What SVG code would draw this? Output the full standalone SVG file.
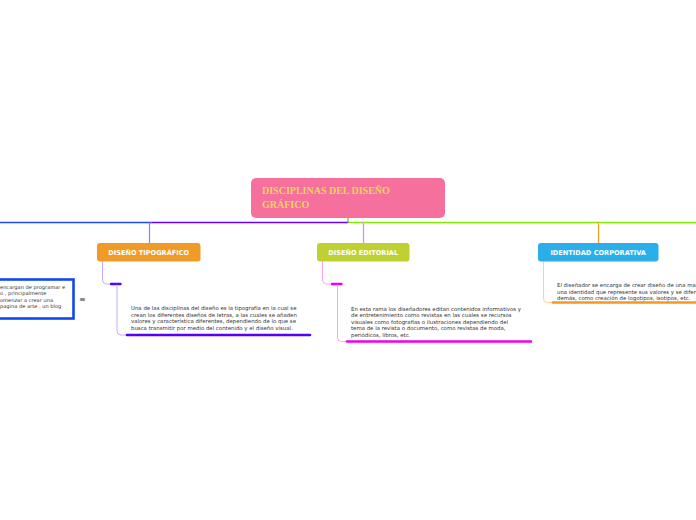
<svg xmlns="http://www.w3.org/2000/svg" width="696" height="520" viewBox="0 0 696 520">
<style>
  .lbl{font-family:"DejaVu Sans",Verdana,sans-serif;font-weight:bold;font-size:6.6px;fill:#ffffff}
  .txt{font-family:"DejaVu Sans",Verdana,sans-serif;font-size:5.4px;fill:#333333}
  .sm{font-size:5.1px}
  .title{font-family:"Liberation Serif","Times New Roman",serif;font-weight:bold;font-size:10px;fill:#F3D45A}
  .ln{fill:none;stroke-linecap:round}
</style>
<rect width="696" height="520" fill="#ffffff"/>
<g id="connectors">
  <path class="ln" d="M0 222.5 H150" stroke="#1A4CF5" stroke-width="1.3"/>
  <path class="ln" d="M150 222.5 H348" stroke="#6A00FF" stroke-width="1.3"/>
  <path class="ln" d="M349 222.5 H696" stroke="#80F000" stroke-width="1.3"/>
  <path class="ln" d="M348 218 V222" stroke="#9BB030" stroke-width="1.3"/>
  <path class="ln" d="M151 222.5 Q149.5 222.5 149.5 224 V243" stroke="#A070FF" stroke-width="1.2"/>
  <path class="ln" d="M362 222.5 Q363.5 222.5 363.5 224 V243" stroke="#F47BF4" stroke-width="1.2"/>
  <path class="ln" d="M597 222.5 Q598.5 222.5 598.5 224 V243" stroke="#F39A1E" stroke-width="1.2"/>
  <path class="ln" d="M102.5 261 V280 Q102.5 284 106.5 284 H111" stroke="#C8AAFF" stroke-width="1"/>
  <path class="ln" d="M111 284 H120.5" stroke="#5A00F0" stroke-width="2.4"/>
  <path class="ln" d="M117 285 V331 Q117 335 121 335 H127" stroke="#C8AAFF" stroke-width="1"/>
  <path class="ln" d="M127 335 H310" stroke="#5A00F0" stroke-width="2.6"/>
  <path class="ln" d="M322.5 261 V280 Q322.5 284 326.5 284 H332" stroke="#F8A8F8" stroke-width="1"/>
  <path class="ln" d="M332 284 H341.5" stroke="#EE00EE" stroke-width="2.4"/>
  <path class="ln" d="M337.5 285 V337.5 Q337.5 341.5 341.5 341.5 H347" stroke="#F8A8F8" stroke-width="1"/>
  <path class="ln" d="M347 341.5 H531" stroke="#EE00EE" stroke-width="2.6"/>
  <path class="ln" d="M543.5 261 V298.5 Q543.5 302.5 547.5 302.5 H553" stroke="#FAD39A" stroke-width="1"/>
  <path class="ln" d="M553 302.5 H696" stroke="#F39A1E" stroke-width="2.6"/>
</g>
<g id="central">
  <rect x="251" y="178" width="194" height="40" rx="5" fill="#F5709D"/>
  <text class="title" x="262" y="194">DISCIPLINAS DEL DISEÑO</text>
  <text class="title" x="262" y="207.5">GRÁFICO</text>
</g>
<g id="tipografico">
  <rect x="97" y="243" width="103.5" height="18.5" rx="3" fill="#F09B25"/>
  <text class="lbl" x="148.7" y="255" text-anchor="middle">DISEÑO TIPOGRÁFICO</text>
</g>
<g id="tipografico-text">
  <text class="txt" x="131" y="310">Una de las disciplinas del diseño es la tipografía en la cual se</text>
  <text class="txt" x="131" y="316.7">crean los diferentes diseños de letras, a las cuales se añaden</text>
  <text class="txt" x="131" y="323.2">valores y característica diferentes, dependiendo de lo que se</text>
  <text class="txt" x="131" y="329.8">busca transmitir por medio del contenido y el diseño visual.</text>
</g>
<g id="editorial">
  <rect x="317" y="243" width="92.5" height="18.5" rx="3" fill="#BFD132"/>
  <text class="lbl" x="363.2" y="255" text-anchor="middle">DISEÑO EDITORIAL</text>
</g>
<g id="editorial-text">
  <text class="txt" x="351" y="310.5">En esta rama los diseñadores editan contenidos informativos y</text>
  <text class="txt" x="351" y="317.2">de entretenimiento como revistas en las cuales se recursos</text>
  <text class="txt" x="351" y="323.8">visuales como fotografías o ilustraciones dependiendo del</text>
  <text class="txt" x="351" y="330.4">tema de la revista o documento, como revistas de moda,</text>
  <text class="txt" x="351" y="337">periódicos, libros, etc.</text>
</g>
<g id="identidad">
  <rect x="538" y="243" width="120.5" height="18.5" rx="3" fill="#2AAFEA"/>
  <text class="lbl" x="598.2" y="255" text-anchor="middle">IDENTIDAD CORPORATIVA</text>
</g>
<g id="identidad-text">
  <text class="txt" x="557" y="287">El diseñador se encarga de crear diseño de una marca,</text>
  <text class="txt" x="557" y="293.5">una identidad que represente sus valores y se diferencie de los</text>
  <text class="txt" x="557" y="300">demás, como creación de logotipos, isotipos, etc.</text>
</g>
<g id="web">
  <rect x="-20" y="279.5" width="93.5" height="39" fill="#ffffff" stroke="#1148F2" stroke-width="2.6"/>
  <text class="txt sm" x="0" y="288.5">encargan de programar e</text>
  <text class="txt sm" x="0" y="295">o , principalmente</text>
  <text class="txt sm" x="0" y="301.5">omenzar a crear una</text>
  <text class="txt sm" x="0" y="308">pagina de arte , un blog</text>
  <text x="79" y="302" font-family="DejaVu Sans,sans-serif" font-size="8" fill="#333333">≡</text>
</g>
</svg>
